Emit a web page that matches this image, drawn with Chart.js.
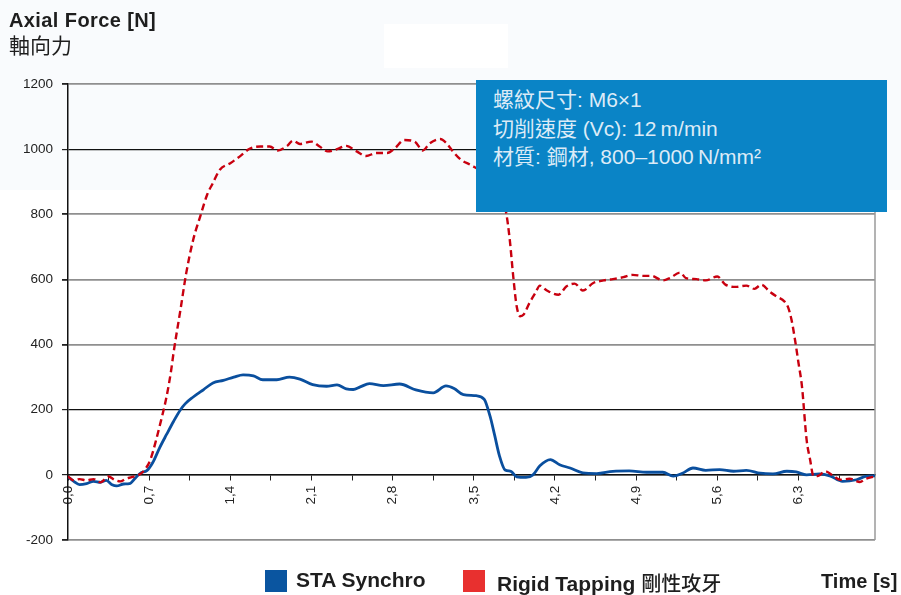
<!DOCTYPE html>
<html>
<head>
<meta charset="utf-8">
<script src="https://cdn.jsdelivr.net/npm/chart.js@4.4.1/dist/chart.umd.min.js"></script>
<style>
  html, body { margin: 0; padding: 0; }
  body {
    width: 901px; height: 595px; position: relative; overflow: hidden; background: #fff;
    font-family: "Liberation Sans", "Noto Sans CJK TC", sans-serif; color: #1e1e1e;
  }
  .tint { position: absolute; left: 0; top: 0; width: 901px; height: 190px; background: #f9fbfd; }
  .patch { position: absolute; left: 384px; top: 24px; width: 124px; height: 44px; background: #fff; }
  #chart { position: absolute; left: 0; top: 0; }
  .txt { position: absolute; line-height: 0; white-space: nowrap; }
  .bold { font-weight: bold; font-size: 20px; }
  .leg { font-size: 21px; }
  .cjk { font-weight: 500; font-size: 20px; }
  .info {
    position: absolute; left: 476px; top: 80px; width: 411px; height: 132px; background: #0a84c6;
  }
  .info .txt { left: 17px; font-size: 21px; color: #dcebf7; }
  .sq { position: absolute; top: 570px; width: 22px; height: 22px; }
</style>
</head>
<body>
<div class="tint"></div>
<div class="patch"></div>
<canvas id="chart" width="901" height="595"></canvas>

<div class="txt bold" style="left:9px; top:20px; letter-spacing:0.4px;">Axial Force [N]</div>
<div class="txt" style="left:9px; top:46px; font-size:21px;">軸向力</div>

<div class="info">
  <div class="txt" style="top:20px;">螺紋尺寸: M6×1</div>
  <div class="txt" style="top:49px;">切削速度 (Vc): 12&#8239;m/min</div>
  <div class="txt" style="top:77px;">材質: 鋼材, 800–1000&#8239;N/mm²</div>
</div>

<div class="sq" style="left:265px; background:#0a55a0;"></div>
<div class="txt bold leg" style="left:296px; top:580px;">STA Synchro</div>
<div class="sq" style="left:463px; background:#e8302f;"></div>
<div class="txt bold leg" style="left:497px; top:584px;">Rigid Tapping <span class="cjk">剛性攻牙</span></div>
<div class="txt bold" style="left:821px; top:581px;">Time [s]</div>

<script>
// STA Synchro (blue, solid)
const staTime = [0, 0.05, 0.10, 0.16, 0.22, 0.28, 0.33, 0.38, 0.42, 0.48, 0.53, 0.58, 0.63, 0.68,
  0.73, 0.79, 0.85, 0.91, 0.97, 1.01, 1.08, 1.17, 1.25, 1.34, 1.43, 1.51, 1.60, 1.68, 1.80, 1.91,
  2.00, 2.11, 2.23, 2.32, 2.40, 2.46, 2.52, 2.60, 2.72, 2.86, 3.00, 3.15, 3.26, 3.33, 3.41, 3.52,
  3.59, 3.64, 3.68, 3.72, 3.77, 3.82, 3.87, 3.95, 4.01, 4.07, 4.16, 4.24, 4.33, 4.44, 4.56, 4.70,
  4.84, 4.99, 5.13, 5.22, 5.30, 5.39, 5.50, 5.62, 5.74, 5.85, 5.97, 6.08, 6.20, 6.28, 6.37, 6.48,
  6.57, 6.68, 6.80, 6.88, 6.96]
const staForce = [-6, -20, -30, -27, -20, -23, -17, -30, -34, -28, -27, -10, 7, 13,
  37, 83, 124, 164, 200, 218, 239, 262, 282, 290, 300, 307, 304, 292, 292, 300,
  294, 277, 272, 276, 264, 262, 270, 280, 274, 279, 261, 252, 273, 265, 246, 243,
  232, 180, 121, 60, 15, 11, -6, -8, 0, 28, 47, 31, 21, 6, 4, 11,
  12, 8, 8, -4, 5, 21, 14, 16, 11, 14, 5, 3, 11, 9, 0, 3,
  -3, -20, -15, -5, -3]

// Rigid Tapping (red, dashed)
const rigidTime = [0, 0.05, 0.10, 0.16, 0.22, 0.28, 0.35, 0.40, 0.45, 0.50, 0.55, 0.61, 0.66,
  0.71, 0.76, 0.79, 0.85, 0.89, 0.91, 0.97, 1.02, 1.08, 1.14, 1.20, 1.25, 1.31, 1.40, 1.48, 1.57,
  1.66, 1.74, 1.81, 1.89, 1.94, 2.00, 2.10, 2.17, 2.24, 2.32, 2.40, 2.49, 2.57, 2.66, 2.75, 2.82,
  2.90, 2.99, 3.06, 3.12, 3.21, 3.26, 3.32, 3.39, 3.47, 3.52, 3.58, 3.65, 3.72, 3.76, 3.78, 3.81,
  3.84, 3.87, 3.90, 3.93, 3.98, 4.03, 4.07, 4.13, 4.23, 4.30, 4.37, 4.44, 4.53, 4.62, 4.70, 4.79,
  4.87, 4.96, 5.03, 5.13, 5.19, 5.28, 5.33, 5.42, 5.50, 5.60, 5.67, 5.76, 5.85, 5.92, 5.98, 6.05,
  6.11, 6.18, 6.21, 6.24, 6.27, 6.30, 6.33, 6.37, 6.40, 6.43, 6.47, 6.53, 6.60, 6.66, 6.74, 6.83,
  6.88, 6.96]
const rigidForce = [-5, -17, -13, -17, -13, -23, -5, -15, -20, -12, -7, 0, 15,
  46, 107, 149, 240, 322, 374, 507, 620, 722, 793, 860, 896, 937, 957, 977, 1002,
  1008, 1008, 996, 1010, 1026, 1016, 1023, 1008, 993, 1000, 1010, 993, 979, 988, 988, 1003,
  1028, 1023, 996, 1018, 1031, 1020, 993, 967, 952, 942, 930, 915, 890, 830, 803, 722,
  609, 517, 487, 492, 528, 558, 581, 566, 553, 579, 587, 566, 589, 597, 601, 607,
  614, 611, 611, 597, 604, 621, 604, 601, 597, 609, 584, 577, 581, 571, 584, 563,
  548, 532, 515, 476, 415, 344, 272, 108, 47, -4, -3, 11, -3, -15, -12, -22,
  -12, -5]

// x ticks every 0.35 s, labelled every 0.7 s
const xTickTimes = [0, 0.35, 0.7, 1.05, 1.4, 1.75, 2.1, 2.45, 2.8, 3.15, 3.5, 3.85, 4.2, 4.55,
  4.9, 5.25, 5.6, 5.95, 6.3, 6.65]
const xTickLabels = ["0,0", "", "0,7", "", "1,4", "", "2,1", "", "2,8", "", "3,5", "", "4,2", "",
  "4,9", "", "5,6", "", "6,3", ""]
const yTickValues = [-200, 0, 200, 400, 600, 800, 1000, 1200]

const toPoints = (ts, vs) => ts.map((t, i) => ({ x: t, y: vs[i] }))
const tickFont = { family: "Liberation Sans", size: 13.5 }
const darkGrid = [0, 200, 1000]

const frameRight = {
  id: "frameRight",
  beforeDatasetsDraw(chart) {
    const { ctx, chartArea: a } = chart
    ctx.save()
    ctx.strokeStyle = "#9a9a9a"
    ctx.lineWidth = 1.5
    ctx.beginPath()
    ctx.moveTo(a.right, a.top)
    ctx.lineTo(a.right, a.bottom)
    ctx.stroke()
    ctx.restore()
  }
}

new Chart(document.getElementById("chart"), {
  type: "line",
  data: {
    datasets: [
      {
        label: "STA Synchro",
        data: toPoints(staTime, staForce),
        borderColor: "#0a4f9e",
        borderWidth: 2.8,
        pointRadius: 0,
        cubicInterpolationMode: "monotone",
        order: 2
      },
      {
        label: "Rigid Tapping",
        data: toPoints(rigidTime, rigidForce),
        borderColor: "#c8000f",
        borderWidth: 2.4,
        borderDash: [7, 4],
        pointRadius: 0,
        cubicInterpolationMode: "monotone",
        order: 1
      }
    ]
  },
  options: {
    responsive: false,
    animation: false,
    devicePixelRatio: 1,
    layout: { padding: { left: 10, top: 84, right: 26, bottom: 55 } },
    plugins: { legend: { display: false }, tooltip: { enabled: false } },
    scales: {
      x: {
        type: "linear",
        min: 0,
        max: 6.96,
        position: { y: 0 },
        afterBuildTicks: (s) => { s.ticks = xTickTimes.map(v => ({ value: v })) },
        grid: { drawOnChartArea: false, tickLength: 5, tickColor: "#222" },
        border: { color: "#111", width: 1.5 },
        ticks: {
          autoSkip: false,
          maxRotation: 90,
          minRotation: 90,
          padding: 6,
          color: "#222",
          font: tickFont,
          callback: (v, i) => xTickLabels[i]
        }
      },
      y: {
        min: -200,
        max: 1200,
        afterFit: (s) => { s.width = 58 },
        afterBuildTicks: (s) => { s.ticks = yTickValues.map(v => ({ value: v })) },
        grid: {
          color: (c) => darkGrid.includes(c.tick.value) ? "#111" : "#8f8f8f",
          lineWidth: (c) => darkGrid.includes(c.tick.value) ? 1.2 : 1.8,
          tickLength: 6,
          tickColor: "#222"
        },
        border: { color: "#111", width: 1.5 },
        ticks: { padding: 9, color: "#222", font: tickFont, callback: (v) => String(v) }
      }
    }
  },
  plugins: [frameRight]
})
</script>
</body>
</html>
